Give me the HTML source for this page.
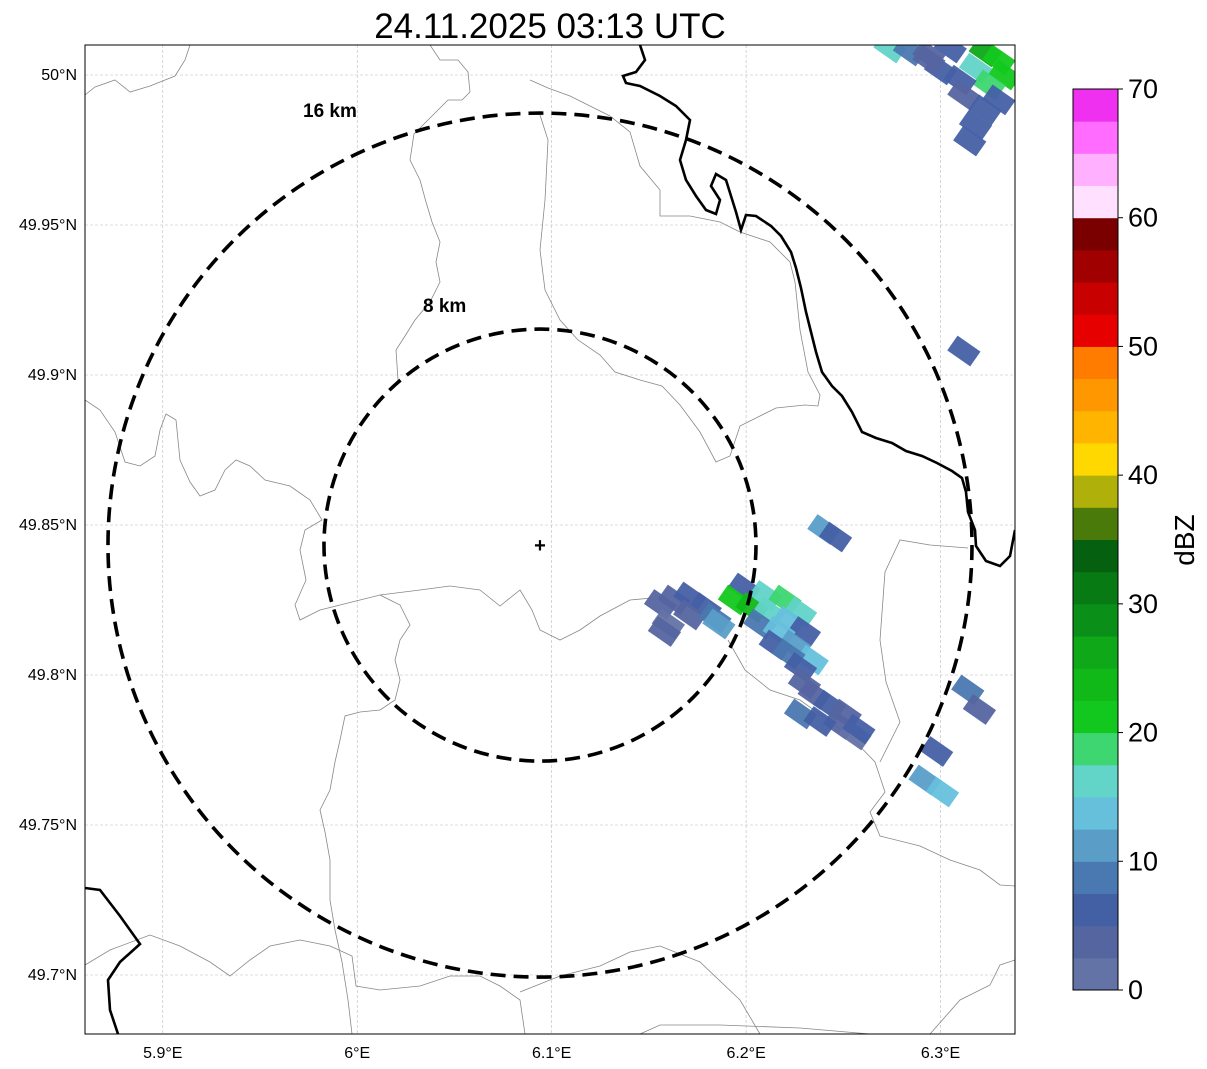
<!DOCTYPE html>
<html><head><meta charset="utf-8">
<style>
html,body{margin:0;padding:0;background:#fff;}
svg{display:block;font-family:"Liberation Sans",sans-serif;}
</style></head>
<body>
<svg id="s" width="1207" height="1069" viewBox="0 0 1207 1069">
<rect width="1207" height="1069" fill="#fff"/>
<text x="550" y="38" font-size="35" text-anchor="middle">24.11.2025 03:13 UTC</text>
<defs><clipPath id="mapclip"><rect x="85" y="45" width="930" height="989"/></clipPath></defs>
<g id="grid"></g>
<g id="bounds" clip-path="url(#mapclip)"></g>
<g id="cells" clip-path="url(#mapclip)"></g>
<g id="rings"></g>
<rect x="85" y="45" width="930" height="989" fill="none" stroke="#000" stroke-width="1"/>
<g id="ticks"></g>
<g id="cbar"></g>
</svg>
<script>
const lonTicks=[5.9,6.0,6.1,6.2,6.3];
const lonLabels=["5.9°E","6°E","6.1°E","6.2°E","6.3°E"];
const latTicks=[50.0,49.95,49.9,49.85,49.8,49.75,49.7];
const latLabels=["50°N","49.95°N","49.9°N","49.85°N","49.8°N","49.75°N","49.7°N"];
const cbTicks=[0,10,20,30,40,50,60,70];
const cbColors=["#6473a6","#5565a0","#4460a5","#4a78b0","#5a9ec8","#66c0dc","#62d4c8","#3dd670","#12c81e","#10b818","#0ea818","#0a9018","#087a14","#056010","#4a7a0a","#b0b00a","#ffd800","#ffb400","#ff9800","#ff7c00","#e60000","#c80000","#a00000","#7a0000","#ffe0ff","#ffb0ff","#ff6cff","#f030f0"];
const cellLon=[6.156,6.163,6.171,6.179,6.160,6.171,6.184,6.158,6.186,
6.199,6.194,6.203,6.210,6.220,6.228,6.212,6.222,6.230,6.207,6.217,6.225,6.234,6.215,6.222,6.228,6.230,6.235,6.228,6.243,6.251,6.248,6.256,6.238,6.258,
6.240,6.246,6.312,6.314,6.320,6.298,6.292,6.301,6.315,
6.274,6.284,6.294,6.305,6.323,6.330,6.333,6.318,6.325,6.310,6.312,6.323,6.318,6.330,6.300,6.294];
const cellLat=[49.8235,49.825,49.826,49.8225,49.817,49.820,49.819,49.8145,49.817,
49.829,49.825,49.8225,49.8265,49.825,49.821,49.821,49.818,49.8145,49.817,49.8145,49.810,49.805,49.810,49.807,49.8025,49.797,49.7935,49.787,49.790,49.787,49.7835,49.780,49.7845,49.782,
49.8485,49.846,49.908,49.795,49.7885,49.7745,49.765,49.761,49.978,
50.009,50.008,50.0067,50.009,50.0077,50.005,50.000,50.0023,49.9967,49.9983,49.9933,49.9884,49.9834,49.9917,50.0017,50.005];
const cellDbz=[3,4,5,7,2,4,9,3,10,
6,20,24,17,18,15,16,13,6,8,14,12,14,7,9,5,4,3,8,5,4,3,2,6,7,
11,5,5,8,4,5,12,13,5,
16,8,3,6,25,20,22,16,19,5,4,7,5,5,6,4];
const centerLon=6.094, centerLat=49.8433;
const ringKm=[8,16];

const NS="http://www.w3.org/2000/svg";
const X=lon=>85+(lon-5.86)*1944.4;
const Y=lat=>45+(50.01-lat)*3000;
const pxPerKm=27.0;
function mk(tag,attrs,parent){const e=document.createElementNS(NS,tag);for(const k in attrs)e.setAttribute(k,attrs[k]);parent.appendChild(e);return e;}
const S=id=>document.getElementById(id);

lonTicks.forEach((v,i)=>{
 const x=X(v);
 const l=mk('line',{x1:x,x2:x,y1:45,y2:1034,stroke:'#bbb','stroke-width':0.6,'stroke-dasharray':'3,2'},S('grid'));
 
 
 const t=mk('text',{x:x,y:1058,'font-size':16,'text-anchor':'middle'},S('ticks'));
 t.textContent=lonLabels[i];
 
 
});
latTicks.forEach((v,i)=>{
 const y=Y(v);
 const l=mk('line',{x1:85,x2:1015,y1:y,y2:y,stroke:'#bbb','stroke-width':0.6,'stroke-dasharray':'3,2'},S('grid'));
 
 
 const t=mk('text',{x:77,y:y+5,'font-size':16,'text-anchor':'end'},S('ticks'));
 t.textContent=latLabels[i];
 
 
});

const thin=[
"85,95 95,87 115,80 130,92 150,86 175,76 185,60 190,45",
"430,45 440,60 458,60 468,72 470,92 462,100 448,100 436,112 424,124 414,134 410,160 420,180 426,202 432,222 440,242 436,262 440,282 430,302 415,320 405,336 396,350 398,380",
"540,115 548,140 545,200 540,250 545,290 560,320 578,340 600,355 615,372 640,380 662,386 680,405 700,432 716,462 730,456 740,426 760,416 776,408 805,405 818,406 820,395 808,372 800,330 795,282 790,262 770,242 740,232 720,222 690,216 660,216 660,190 640,166 630,132 610,116 590,106 570,96 548,88 530,80",
"85,400 100,410 115,432 125,462 140,466 155,456 160,430 166,414 176,420 180,460 190,482 200,496 215,490 225,470 236,460 250,466 265,480 290,486 310,500 322,520 305,530 300,550 306,580 295,605 300,620 320,610 340,605 360,600 380,595 400,605 410,625 400,640 395,660 400,680 395,700 380,710 360,712 345,716 340,740 335,762 330,790 320,810 325,832 330,860 330,900 335,930 342,962 348,1000 352,1034",
"380,595 420,590 450,586 480,590 500,606 520,590 532,610 540,630 560,640 580,630 600,616 630,600 652,598",
"85,965 110,950 150,935 180,946 210,962 230,976 250,960 270,946 300,940 330,946 352,956 356,986 380,990 420,986 450,976 480,976 500,986 520,1000 525,1034",
"520,992 560,976 600,966 630,952 660,946 700,962 740,1000 760,1034",
"640,1034 660,1025 720,1025 800,1028 870,1034",
"728,640 745,670 770,690 800,700 850,736 875,762 885,792 870,812 880,836 920,846 950,860 980,870 1000,885 1015,886",
"880,762 900,722 886,682 880,640 885,572 900,540 930,545 968,548",
"930,1034 960,1000 990,985 1000,965 1015,960"
];
thin.forEach(p=>{const e=mk('polyline',{points:p,fill:'none',stroke:'#888','stroke-width':0.8},S('bounds'));
 
 });
const thick=[
"640,45 645,60 636,72 623,76 626,83 640,86 660,96 676,106 690,120 686,140 680,160 686,180 696,196 706,210 716,214 720,200 711,186 716,174 726,180 731,196 736,212 741,230 746,215 756,216 771,226 781,236 791,252 796,268 801,288 806,312 811,332 816,352 822,372 832,386 842,396 852,412 862,432 876,438 892,443 906,451 922,456 937,463 952,471 962,478 966,492 968,512 975,530 976,546 986,561 1000,566 1010,556 1015,530",
"85,888 100,890 120,916 140,944 120,962 108,980 110,1010 118,1034"
];
thick.forEach(p=>{const e=mk('polyline',{points:p,fill:'none',stroke:'#000','stroke-width':2.6},S('bounds'));
 
 });

function colorFor(d){let i=Math.floor(d/2.5);if(i<0)i=0;if(i>27)i=27;return cbColors[i];}
cellLon.forEach((lon,i)=>{
 const cx=X(lon),cy=Y(cellLat[i]);
 const r=mk('rect',{x:cx-14,y:cy-9,width:28,height:18,fill:colorFor(cellDbz[i]),transform:`rotate(35 ${cx} ${cy})`,opacity:0.95},S('cells'));
 
 
});

const cx=X(centerLon),cy=Y(centerLat);
ringKm.forEach(km=>{
 const r=mk('circle',{cx:cx,cy:cy,r:km*pxPerKm,fill:'none',stroke:'#000','stroke-width':3.6,'stroke-dasharray':'15,8'},S('rings'));
 
 
});
[[16,303,117],[8,423,312]].forEach(a=>{
 const t=mk('text',{x:a[1],y:a[2],'font-size':19,'font-weight':'bold'},S('rings'));
 t.textContent=a[0]+' km';
 
 
});
const m=mk('text',{x:cx,y:cy+7,'font-size':20,'font-weight':'bold','text-anchor':'middle'},S('rings'));
m.textContent='+';



const cb0=990,cb1=89,cbX=1073,cbW=45;
const cbY=v=>cb0-(v/70)*(cb0-cb1);
cbColors.forEach((c,i)=>{
 const y1=cbY((i+1)*2.5),y0=cbY(i*2.5);
 const r=mk('rect',{x:cbX,y:y1,width:cbW,height:y0-y1+0.5,fill:c},S('cbar'));
 
 
});
mk('rect',{x:cbX,y:cb1,width:cbW,height:cb0-cb1,fill:'none',stroke:'#000','stroke-width':1},S('cbar'));
cbTicks.forEach(v=>{
 const y=cbY(v);
 mk('line',{x1:cbX+cbW,x2:cbX+cbW+5,y1:y,y2:y,stroke:'#000'},S('cbar'));
 const t=mk('text',{x:1128,y:y+9,'font-size':27},S('cbar'));
 t.textContent=v;
 
 
});
const lab=mk('text',{x:1194,y:540,'font-size':28,'text-anchor':'middle',transform:'rotate(-90 1194 540)'},S('cbar'));
lab.textContent='dBZ';


</script>
</body></html>
